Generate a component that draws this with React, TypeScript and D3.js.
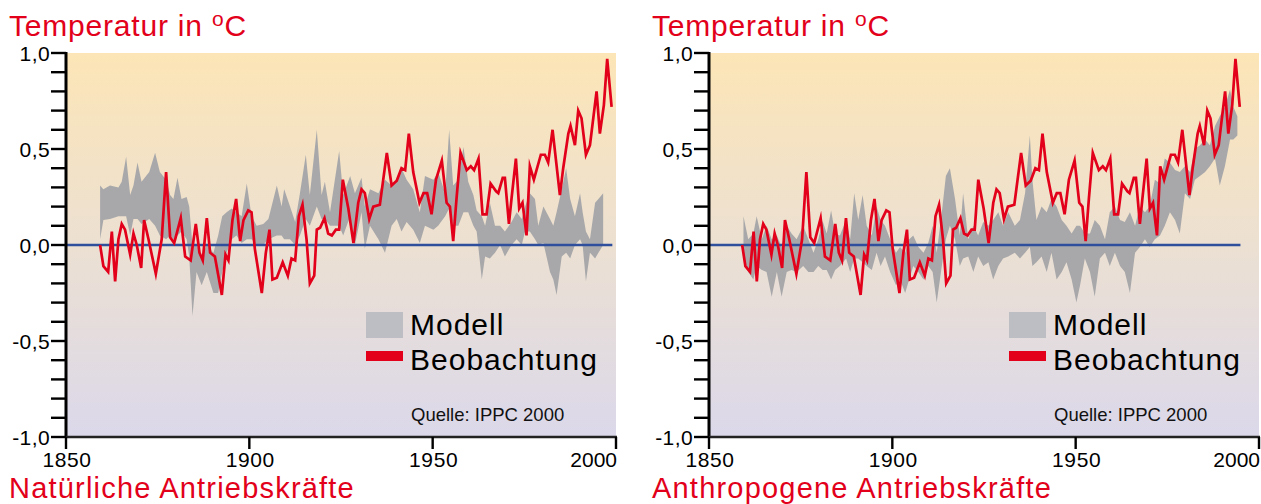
import * as d3 from "d3"

const observed: [number, number][] = [
  [1859.3, 0.0], [1860.2, -0.11], [1861.5, -0.14], [1862.5, 0.07], [1863.4, -0.19], [1864.3, 0.03],
  [1865.2, 0.11], [1866.1, 0.08], [1867.5, -0.05], [1868.4, 0.06], [1869.3, 0.0], [1870.5, -0.12],
  [1871.3, 0.13], [1872.5, 0.03], [1874.5, -0.15], [1876.1, 0.03], [1877.3, 0.38], [1878.4, 0.04],
  [1879.5, 0.01], [1881.3, 0.14], [1882.5, -0.06], [1884.0, -0.08], [1885.4, 0.11], [1886.4, -0.04],
  [1887.3, -0.08], [1888.4, 0.14], [1889.3, -0.04], [1890.6, -0.06], [1892.5, -0.26], [1893.5, -0.05],
  [1894.3, -0.08], [1895.4, 0.13], [1896.4, 0.24], [1897.5, 0.02], [1898.4, 0.13], [1899.7, 0.18],
  [1900.6, 0.17], [1901.5, -0.02], [1903.4, -0.25], [1904.5, -0.04], [1905.5, 0.08], [1906.3, -0.18],
  [1907.5, -0.17], [1909.1, -0.09], [1910.5, -0.16], [1911.5, -0.07], [1912.5, -0.08], [1913.5, 0.15],
  [1914.5, 0.21], [1915.6, 0.03], [1916.5, -0.2], [1917.7, -0.16], [1918.4, 0.08], [1919.3, 0.09],
  [1920.5, 0.14], [1921.5, 0.06], [1922.5, 0.05], [1923.6, 0.08], [1924.5, 0.08], [1925.5, 0.34],
  [1927.0, 0.19], [1928.4, 0.01], [1929.7, 0.22], [1930.6, 0.29], [1931.5, 0.27], [1932.7, 0.135],
  [1933.8, 0.2], [1935.6, 0.21], [1937.5, 0.48], [1938.8, 0.31], [1940.2, 0.335], [1941.5, 0.4],
  [1942.5, 0.39], [1943.5, 0.58], [1944.7, 0.38], [1946.4, 0.22], [1947.5, 0.27], [1948.5, 0.27],
  [1949.7, 0.16], [1950.9, 0.34], [1952.5, 0.44], [1953.8, 0.22], [1954.7, 0.2], [1955.6, 0.02],
  [1956.5, 0.24], [1957.6, 0.48], [1959.3, 0.39], [1960.4, 0.41], [1961.3, 0.39], [1962.5, 0.45],
  [1963.6, 0.16], [1964.7, 0.16], [1965.8, 0.32], [1967.3, 0.28], [1967.9, 0.27], [1969.1, 0.35],
  [1969.7, 0.35], [1970.8, 0.11], [1971.5, 0.24], [1972.7, 0.45], [1973.6, 0.19], [1974.5, 0.22],
  [1975.6, 0.05], [1976.5, 0.41], [1977.6, 0.34], [1979.5, 0.47], [1980.6, 0.47], [1981.5, 0.43],
  [1982.7, 0.6], [1984.7, 0.26], [1985.6, 0.4], [1987.0, 0.58], [1987.6, 0.62], [1988.8, 0.52],
  [1989.7, 0.7], [1990.6, 0.66], [1991.8, 0.47], [1992.9, 0.52], [1994.7, 0.8], [1995.6, 0.58],
  [1996.7, 0.73], [1997.6, 0.97], [1998.8, 0.72],
]

// model range with natural forcing (year, lower, upper)
const naturalModel: [number, number, number][] = [
  [1859.3, 0.03, 0.31], [1860.2, 0.13, 0.29], [1862.0, 0.135, 0.31], [1864.3, 0.15, 0.3], [1865.2, 0.15, 0.33],
  [1866.4, 0.15, 0.46], [1867.5, 0.05, 0.26], [1868.4, 0.135, 0.31], [1869.5, 0.135, 0.43], [1870.6, 0.11, 0.33],
  [1872.7, 0.135, 0.38], [1874.3, 0.1, 0.48], [1875.6, 0.05, 0.38], [1877.3, 0.03, 0.34], [1878.4, 0.05, 0.26],
  [1879.3, 0.03, 0.24], [1880.4, 0.05, 0.35], [1881.5, 0.07, 0.24], [1882.9, 0.03, 0.25], [1883.6, -0.06, 0.2],
  [1884.5, -0.37, 0.0], [1885.6, -0.14, 0.0], [1887.0, -0.21, -0.06], [1888.4, -0.14, 0.0], [1890.2, -0.25, -0.04],
  [1891.5, -0.25, 0.05], [1892.6, -0.14, 0.15], [1893.8, -0.04, 0.17], [1895.2, 0.03, 0.19], [1896.5, 0.05, 0.17],
  [1897.9, 0.01, 0.15], [1899.3, 0.03, 0.32], [1900.6, 0.03, 0.15], [1902.0, 0.0, 0.1], [1903.8, 0.0, 0.11],
  [1905.2, 0.03, 0.135], [1907.5, 0.05, 0.31], [1908.8, 0.05, 0.2], [1909.5, 0.03, 0.29], [1911.1, 0.03, 0.2],
  [1912.5, 0.0, 0.12], [1913.8, 0.05, 0.27], [1915.4, 0.135, 0.47], [1916.5, 0.1, 0.26], [1918.4, 0.2, 0.6],
  [1919.7, 0.135, 0.26], [1920.6, 0.135, 0.33], [1922.0, 0.1, 0.17], [1924.5, 0.1, 0.49], [1925.6, 0.05, 0.26],
  [1927.5, 0.15, 0.36], [1928.8, 0.0, 0.27], [1930.6, 0.17, 0.35], [1931.5, -0.02, 0.2], [1932.9, 0.1, 0.29],
  [1935.2, 0.03, 0.27], [1937.0, -0.04, 0.34], [1938.8, 0.1, 0.31], [1940.2, 0.135, 0.34], [1941.5, 0.07, 0.4],
  [1942.9, 0.12, 0.34], [1944.7, 0.08, 0.29], [1946.5, 0.01, 0.17], [1947.9, 0.1, 0.36], [1950.2, 0.08, 0.34],
  [1951.5, 0.1, 0.38], [1953.4, 0.15, 0.27], [1954.5, 0.19, 0.6], [1955.6, 0.1, 0.31], [1957.0, 0.1, 0.34],
  [1958.4, 0.17, 0.51], [1959.7, 0.17, 0.33], [1961.1, 0.1, 0.26], [1962.0, 0.07, 0.18], [1963.4, -0.18, 0.15],
  [1964.3, -0.06, 0.1], [1965.6, -0.07, 0.22], [1967.0, -0.04, 0.1], [1968.4, 0.0, 0.1], [1969.7, -0.06, 0.07],
  [1971.5, 0.0, 0.12], [1972.9, 0.03, 0.17], [1974.3, 0.0, 0.135], [1975.2, 0.07, 0.2], [1976.5, 0.07, 0.27],
  [1977.9, 0.03, 0.24], [1978.8, 0.0, 0.1], [1980.2, 0.01, 0.2], [1982.0, -0.14, 0.135], [1982.9, -0.18, 0.1],
  [1983.8, -0.26, 0.17], [1985.2, -0.06, 0.29], [1986.4, -0.04, 0.4], [1987.5, -0.07, 0.24], [1988.8, 0.0, 0.15],
  [1990.2, 0.03, 0.27], [1990.9, 0.0, 0.17], [1991.8, -0.19, 0.07], [1992.9, -0.04, 0.03], [1994.3, -0.07, 0.22],
  [1995.2, -0.04, 0.24], [1996.5, 0.0, 0.27],
]

// model range with anthropogenic forcing (year, lower, upper)
const anthropogenicModel: [number, number, number][] = [
  [1859.4, -0.07, 0.15], [1860.7, -0.14, 0.03], [1862.1, -0.18, 0.06], [1863.0, -0.11, 0.15], [1864.4, -0.13, 0.03],
  [1865.7, -0.14, 0.1], [1867.1, -0.27, 0.03], [1868.5, -0.14, 0.05], [1869.8, -0.27, -0.01], [1871.2, -0.14, 0.1],
  [1872.5, -0.13, 0.06], [1873.9, -0.14, 0.03], [1875.7, -0.11, 0.1], [1877.1, -0.14, 0.03], [1878.5, -0.14, -0.04],
  [1879.8, -0.11, 0.03], [1881.0, -0.13, 0.125], [1882.1, -0.13, 0.06], [1883.3, -0.18, 0.18], [1884.4, -0.13, 0.06],
  [1885.7, -0.11, 0.05], [1887.4, -0.07, 0.13], [1888.5, -0.14, 0.03], [1889.6, -0.07, 0.27], [1890.7, -0.07, 0.13],
  [1891.9, -0.09, 0.26], [1893.0, -0.11, 0.1], [1894.4, -0.13, 0.05], [1895.7, -0.04, 0.2], [1896.8, -0.11, 0.13],
  [1898.0, -0.06, 0.1], [1899.4, -0.14, 0.03], [1901.0, -0.21, -0.04], [1902.1, -0.18, -0.01], [1903.5, -0.25, -0.04],
  [1904.6, -0.18, 0.03], [1905.7, -0.11, 0.05], [1907.1, -0.14, -0.01], [1908.5, -0.18, -0.04], [1909.8, -0.11, 0.01],
  [1911.0, -0.14, 0.1], [1912.1, -0.3, -0.04], [1913.5, -0.11, 0.17], [1914.6, 0.03, 0.36], [1915.7, 0.1, 0.4],
  [1917.1, 0.03, 0.24], [1918.4, -0.11, 0.05], [1919.3, -0.07, 0.27], [1920.7, -0.06, 0.03], [1922.1, -0.14, 0.1],
  [1923.4, -0.06, 0.05], [1924.8, -0.11, 0.12], [1926.2, -0.09, 0.1], [1927.5, -0.18, 0.13], [1928.9, -0.11, 0.17],
  [1930.2, -0.07, 0.1], [1931.6, -0.06, 0.17], [1933.4, -0.04, 0.1], [1934.8, -0.07, 0.13], [1936.2, -0.04, 0.27],
  [1937.5, -0.01, 0.57], [1938.2, -0.11, 0.34], [1939.3, -0.09, 0.13], [1940.7, -0.06, 0.2], [1942.1, -0.14, 0.17],
  [1943.4, -0.04, 0.24], [1944.8, -0.18, 0.2], [1946.2, -0.14, 0.13], [1947.5, -0.09, 0.1], [1948.9, -0.18, 0.06],
  [1950.2, -0.3, 0.1], [1951.2, -0.21, 0.1], [1952.5, -0.07, 0.06], [1953.9, -0.14, 0.06], [1955.2, -0.27, 0.13],
  [1956.6, -0.07, 0.1], [1958.0, -0.04, 0.03], [1959.3, -0.11, 0.17], [1960.7, -0.04, 0.2], [1962.1, -0.11, 0.13],
  [1963.4, -0.14, 0.12], [1964.8, -0.25, 0.17], [1966.2, -0.04, 0.1], [1967.5, -0.01, 0.2], [1968.9, 0.03, 0.17],
  [1970.2, -0.01, 0.2], [1971.6, 0.03, 0.34], [1973.0, 0.05, 0.32], [1974.3, 0.1, 0.45], [1975.7, 0.17, 0.43],
  [1977.1, 0.13, 0.39], [1978.4, 0.06, 0.38], [1979.8, 0.27, 0.41], [1981.2, 0.24, 0.38], [1982.5, 0.34, 0.5],
  [1983.9, 0.36, 0.52], [1985.3, 0.38, 0.55], [1986.6, 0.41, 0.52], [1988.0, 0.45, 0.62], [1989.3, 0.31, 0.67],
  [1990.7, 0.41, 0.72], [1992.1, 0.55, 0.81], [1993.0, 0.55, 0.72], [1994.1, 0.57, 0.67],
]

const xTickYears = [1850, 1900, 1950, 2000]
const yMajorTicks = [-1, -0.5, 0, 0.5, 1]
const yMinorTicks = d3.range(-10, 11).map((i) => i / 10)
const legendLabels = ["Modell", "Beobachtung"]
const sourceLabel = "Quelle: IPPC 2000"
const yTitle = "Temperatur in "

const RED = "#e2001a"
const FONT = "'Liberation Sans', Arial, Helvetica, sans-serif"

interface PanelProps {
  offsetX: number
  model: [number, number, number][]
  title: string
  dataEndYear: number
  gradId: string
}

function Panel({ offsetX, model, title, dataEndYear, gradId }: PanelProps) {
  const left = 66
  const right = 616
  const top = 53
  const bottom = 437

  const x = d3.scaleLinear().domain([1850, 2000]).range([left, right])
  // observed curve is drawn slightly compressed in the right panel of the original
  const xData = d3.scaleLinear().domain([1850, dataEndYear]).range([left, right])
  const y = d3.scaleLinear().domain([-1, 1]).range([bottom, top])

  const band = d3
    .area<[number, number, number]>()
    .x((d) => x(d[0]))
    .y0((d) => y(d[1]))
    .y1((d) => y(d[2]))(model) ?? ""

  const line = d3
    .line<[number, number]>()
    .x((d) => xData(d[0]))
    .y((d) => y(d[1]))(observed) ?? ""

  const fmt = (v: number) => v.toFixed(1).replace(".", ",")
  const lastTick = xTickYears[xTickYears.length - 1]

  return (
    <g transform={`translate(${offsetX},0)`}>
      <rect x={left} y={top} width={right - left} height={bottom - top} fill={`url(#${gradId})`} />

      <path d={band} fill="#a8a8aa" />
      <line x1={xData(1850)} x2={xData(1999)} y1={y(0)} y2={y(0)} stroke="#2f4f9d" strokeWidth={2.6} />
      <path d={line} fill="none" stroke={RED} strokeWidth={2.7} strokeLinejoin="miter" strokeMiterlimit={6} />

      {/* y axis */}
      <line x1={left} x2={left} y1={top - 1} y2={bottom + 1} stroke="#000" strokeWidth={3} />
      {yMinorTicks.map((t) => (
        <line key={t} x1={left - 15} x2={left} y1={y(t)} y2={y(t)} stroke="#000" strokeWidth={2.4} />
      ))}
      {yMajorTicks.map((t) => (
        <text key={t} x={left - 16} y={y(t) + 7.5} textAnchor="end" fontSize={21} letterSpacing={0.4} fontFamily={FONT} fill="#000">
          {fmt(t)}
        </text>
      ))}

      {/* x axis */}
      <line x1={left} x2={right + 1} y1={bottom} y2={bottom} stroke="#222" strokeWidth={2.4} />
      {xTickYears.map((t) => (
        <g key={t}>
          <line x1={x(t)} x2={x(t)} y1={bottom} y2={bottom + 12} stroke="#000" strokeWidth={2.4} />
          <text
            x={x(t) + 1}
            y={467}
            textAnchor={t === lastTick ? "end" : "middle"}
            fontSize={21}
            letterSpacing={t === lastTick ? 0 : 0.6}
            fontFamily={FONT}
            fill="#000"
          >
            {t}
          </text>
        </g>
      ))}

      {/* legend */}
      <rect x={366} y={312} width={37} height={26} fill="#bdbdc4" />
      <text x={410} y={335} fontSize={30} letterSpacing={1} fontFamily={FONT} fill="#000">{legendLabels[0]}</text>
      <rect x={366} y={351} width={37} height={10} fill={RED} />
      <text x={410} y={370} fontSize={30} letterSpacing={1} fontFamily={FONT} fill="#000">{legendLabels[1]}</text>
      <text x={411} y={421} fontSize={18.5} fontFamily={FONT} fill="#111">{sourceLabel}</text>

      {/* titles */}
      <text x={9} y={36} fontSize={30} letterSpacing={0.8} fontFamily={FONT} fill={RED}>
        {yTitle}
        <tspan dy={-10} fontSize={21}>o</tspan>
        <tspan dy={10}>C</tspan>
      </text>
      <text x={9} y={497.5} fontSize={29} letterSpacing={1.2} fontFamily={FONT} fill={RED}>
        {title}
      </text>
    </g>
  )
}

export default function App() {
  return (
    <svg width={1261} height={504} style={{ position: "absolute", left: 0, top: 0, background: "#fff" }}>
      <defs>
        {["gradL", "gradR"].map((id) => (
          <linearGradient key={id} id={id} x1="0" y1="0" x2="0" y2="1">
            <stop offset="0%" stopColor="#fce5b6" />
            <stop offset="50%" stopColor="#ece0d2" />
            <stop offset="100%" stopColor="#dbd8ea" />
          </linearGradient>
        ))}
      </defs>
      <Panel offsetX={0} model={naturalModel} title="Natürliche Antriebskräfte" dataEndYear={2000} gradId="gradL" />
      <Panel offsetX={643} model={anthropogenicModel} title="Anthropogene Antriebskräfte" dataEndYear={2004.2} gradId="gradR" />
    </svg>
  )
}
